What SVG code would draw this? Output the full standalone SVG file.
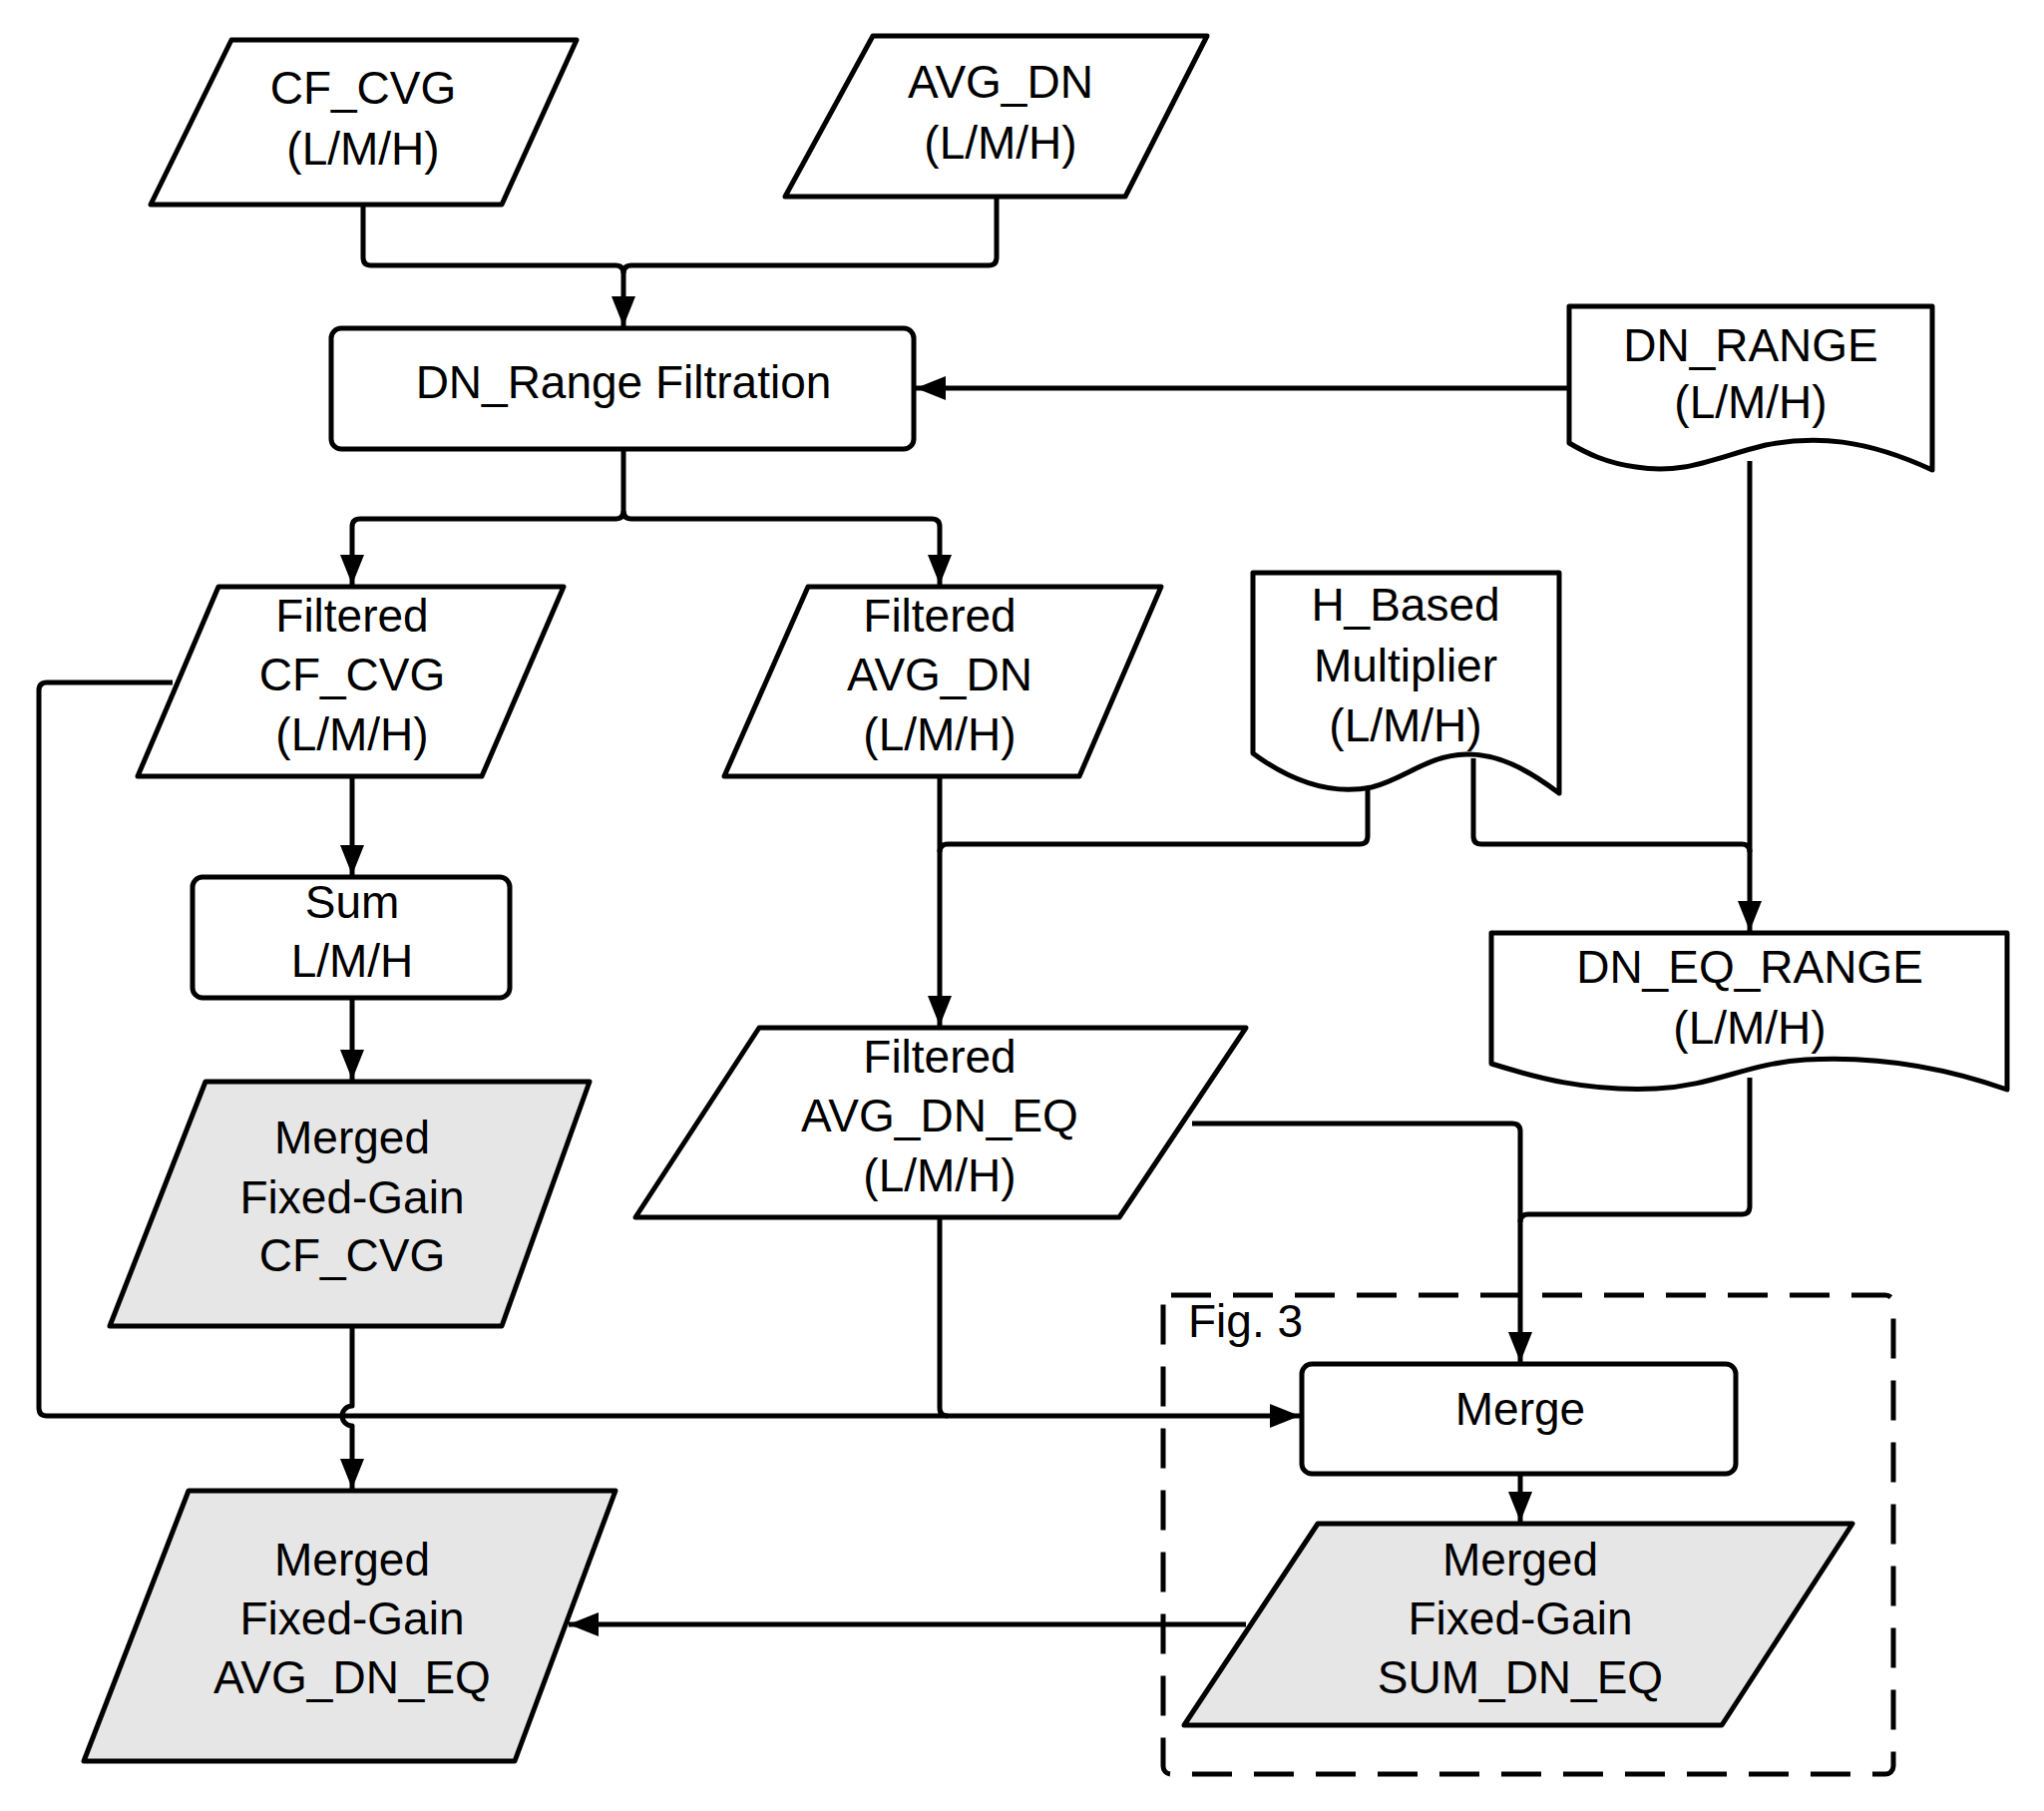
<svg xmlns="http://www.w3.org/2000/svg" width="2049" height="1815" viewBox="0 0 2049 1815">
<style>
.s{fill:#fff;stroke:#000;stroke-width:5;stroke-linejoin:round}
.g{fill:#e6e6e6;stroke:#000;stroke-width:5;stroke-linejoin:round}
.c{fill:none;stroke:#000;stroke-width:5;stroke-linejoin:round}
text{font-family:"Liberation Sans",Arial,sans-serif;font-size:46px;text-anchor:middle;fill:#000}
</style>
<defs>
<marker id="a" markerUnits="userSpaceOnUse" markerWidth="30" markerHeight="24" refX="30" refY="12" orient="auto"><path d="M0,0 L30,12 L0,24 Z" fill="#000"/></marker>
</defs>
<rect width="2049" height="1815" fill="#fff"/>
<g id="connectors">
<path class="c" d="M364,205 V258 Q364,266 372,266 H617 Q625,266 625,274 V327" marker-end="url(#a)"/>
<path class="c" d="M999,197 V258 Q999,266 991,266 H633 Q625,266 625,274"/>
<path class="c" d="M1573,389 H918" marker-end="url(#a)"/>
<path class="c" d="M625,450 V512 Q625,520 617,520 H361 Q353,520 353,528 V586" marker-end="url(#a)"/>
<path class="c" d="M625,512 Q625,520 633,520 H934 Q942,520 942,528 V586" marker-end="url(#a)"/>
<path class="c" d="M353,778 V877" marker-end="url(#a)"/>
<path class="c" d="M353,1000 V1082" marker-end="url(#a)"/>
<path class="c" d="M942,778 V1028" marker-end="url(#a)"/>
<path class="c" d="M1371,790 V838 Q1371,846 1363,846 H950 Q942,846 942,854"/>
<path class="c" d="M1477,760 V838 Q1477,846 1485,846 H1746 Q1754,846 1754,854"/>
<path class="c" d="M1754,462 V933" marker-end="url(#a)"/>
<path class="c" d="M1754,1080 V1209 Q1754,1217 1746,1217 H1532 Q1524,1217 1524,1225"/>
<path class="c" d="M1195,1126 H1516 Q1524,1126 1524,1134 V1365" marker-end="url(#a)"/>
<path class="c" d="M173,684 H47 Q39,684 39,692 V1411 Q39,1419 47,1419 H1303" marker-end="url(#a)"/>
<path class="c" d="M942,1220 V1411 Q942,1419 950,1419"/>
<path class="c" d="M353,1329 V1409 A10,10 0 0 0 353,1429 V1492" marker-end="url(#a)"/>
<path class="c" d="M1524,1477 V1525" marker-end="url(#a)"/>
<path class="c" d="M1249,1628 H570" marker-end="url(#a)"/>
</g>
<g id="n_cfcvg"><path class="s" d="M232,40 H578 L503,205 H151 Z"/><text x="364" y="104">CF_CVG</text><text x="364" y="165">(L/M/H)</text></g>
<g id="n_avgdn"><path class="s" d="M875,36 H1210 L1128,197 H787 Z"/><text x="1003" y="98">AVG_DN</text><text x="1003" y="159">(L/M/H)</text></g>
<g id="n_dnfilt"><rect class="s" x="332" y="329" width="584" height="121" rx="10"/><text x="625" y="399">DN_Range Filtration</text></g>
<g id="n_dnrange"><path class="s" d="M1573,307 H1937 V471 C1870,440 1820,436 1770,446 C1720,458 1690,476 1640,468 C1610,464 1590,454 1573,444 Z"/><text x="1755" y="362">DN_RANGE</text><text x="1755" y="419">(L/M/H)</text></g>
<g id="n_fcf"><path class="s" d="M219,588 H565 L483,778 H138 Z"/><text x="353" y="633">Filtered</text><text x="353" y="692">CF_CVG</text><text x="353" y="752">(L/M/H)</text></g>
<g id="n_favg"><path class="s" d="M810,588 H1164 L1082,778 H726 Z"/><text x="942" y="633">Filtered</text><text x="942" y="692">AVG_DN</text><text x="942" y="752">(L/M/H)</text></g>
<g id="n_hbased"><path class="s" d="M1256,574 H1563 V795 C1530,770 1500,755 1470,756 C1430,757 1410,780 1375,789 C1330,798 1290,780 1256,755 Z"/><text x="1409" y="622">H_Based</text><text x="1409" y="683">Multiplier</text><text x="1409" y="743">(L/M/H)</text></g>
<g id="n_sum"><rect class="s" x="193" y="879" width="318" height="121" rx="10"/><text x="353" y="920">Sum</text><text x="353" y="979">L/M/H</text></g>
<g id="n_dneq"><path class="s" d="M1495,935 H2012 V1092 C1950,1070 1880,1058 1810,1062 C1750,1066 1720,1088 1660,1091 C1590,1094 1540,1080 1495,1066 Z"/><text x="1754" y="985">DN_EQ_RANGE</text><text x="1754" y="1046">(L/M/H)</text></g>
<g id="n_favgeq"><path class="s" d="M761,1030 H1249 L1122,1220 H637 Z"/><text x="942" y="1075">Filtered</text><text x="942" y="1134">AVG_DN_EQ</text><text x="942" y="1194">(L/M/H)</text></g>
<g id="n_mcf"><path class="g" d="M206,1084 H591 L503,1329 H110 Z"/><text x="353" y="1156">Merged</text><text x="353" y="1216">Fixed-Gain</text><text x="353" y="1274">CF_CVG</text></g>
<g id="fig3"><rect x="1166" y="1298" width="732" height="480" rx="8" fill="none" stroke="#000" stroke-width="5" stroke-dasharray="40,22"/><text x="1191" y="1340" style="text-anchor:start">Fig. 3</text></g>
<g id="n_merge"><rect class="s" x="1305" y="1367" width="435" height="110" rx="10"/><text x="1524" y="1428">Merge</text></g>
<g id="n_msum"><path class="g" d="M1321,1527 H1857 L1726,1729 H1187 Z"/><text x="1524" y="1579">Merged</text><text x="1524" y="1638">Fixed-Gain</text><text x="1524" y="1697">SUM_DN_EQ</text></g>
<g id="n_mavg"><path class="g" d="M189,1494 H617 L516,1765 H84 Z"/><text x="353" y="1579">Merged</text><text x="353" y="1638">Fixed-Gain</text><text x="353" y="1697">AVG_DN_EQ</text></g>
</svg>
